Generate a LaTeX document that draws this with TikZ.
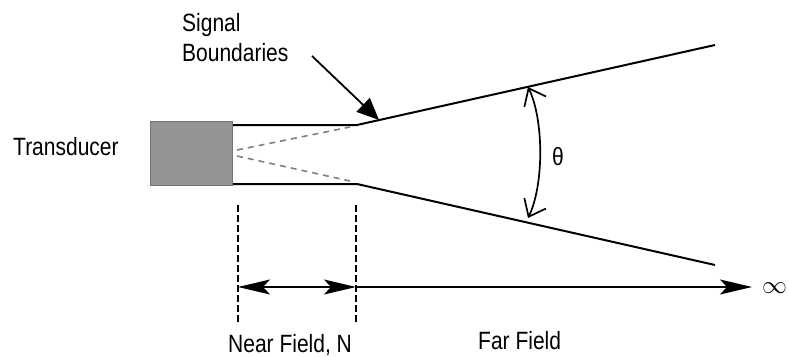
\documentclass[tikz,border=0pt]{standalone}
\usepackage{fontspec}
\usepackage{graphicx}
\setmainfont{Liberation Sans}
\usetikzlibrary{arrows.meta}
\newcommand{\nar}[1]{\scalebox{0.84}[1]{#1}}
\tikzset{dimtip/.tip={Stealth[length=32pt,width=15pt,inset=7pt]}}
\begin{document}
\begin{tikzpicture}[x=1pt,y=-1pt,
  lbl/.style={font=\fontsize{25}{28}\selectfont, inner sep=0pt},
  bound/.style={line width=2pt},
  nearline/.style={black!50, line width=1.6pt, dash pattern=on 6pt off 5pt},
  guide/.style={line width=1.4pt, dash pattern=on 7pt off 3pt},
  dimarrow/.style={line width=1.6pt}
]
\useasboundingbox (0,0) rectangle (789,356);

% transducer
\node[fill=black!42, draw=black!55, minimum width=82pt, minimum height=64pt, inner sep=0pt, anchor=north west] (tr) at (150,121) {};
\node[lbl, anchor=base west] (trlbl) at (13,155) {\nar{Transducer}};

% coordinates
\coordinate (t0) at (233,125);
\coordinate (t1) at (357,125);
\coordinate (t2) at (715,45);
\coordinate (b0) at (233,184);
\coordinate (b1) at (357,184);
\coordinate (b2) at (715,265);
\coordinate (d0) at (237,150);
\coordinate (d1) at (350,127);
\coordinate (e0) at (237,156);
\coordinate (e1) at (350,181);

\draw[bound] (t0) -- (t1) -- (t2);
\draw[bound] (b0) -- (b1) -- (b2);
\draw[nearline] (d0) -- (d1);
\draw[nearline] (e0) -- (e1);

% signal boundaries label
\node[lbl, anchor=base west] (sig) at (182,31) {\nar{Signal}};
\node[lbl, anchor=base west] (bnd) at (182,61) {\nar{Boundaries}};
\coordinate (as) at (312,56);
\coordinate (ae) at (379,120);
\draw[line width=1.8pt, -{Triangle[length=22pt,width=19pt]}] (as) -- (ae);

% theta
\coordinate (th1) at (528,87);
\coordinate (th2) at (528,218);
\draw[line width=1.7pt, {Straight Barb[length=15pt,width=24pt]}-{Straight Barb[length=15pt,width=24pt]}]
  (th1) .. controls (544,120) and (544,185) .. (th2);
\node[lbl, anchor=center] (theta) at (558,157) {\nar{θ}};

% guides
\coordinate (g1a) at (238,205);
\coordinate (g1b) at (238,323);
\coordinate (g2a) at (356,205);
\coordinate (g2b) at (356,323);
\draw[guide] (g1a) -- (g1b);
\draw[guide] (g2a) -- (g2b);

% dimension arrows
\coordinate (h0) at (238,287);
\coordinate (h1) at (356,287);
\coordinate (h2) at (752,287);
\draw[dimarrow, dimtip-dimtip] (h0) -- (h1);
\draw[dimarrow, -dimtip] (h1) -- (h2);
\node[inner sep=0pt, anchor=west, font=\fontsize{26}{26}\selectfont] (inf) at (762,288) {$\infty$};

\node[lbl, anchor=base west] (near) at (228,352) {\nar{Near Field, N}};
\node[lbl, anchor=base west] (far) at (478,349) {\nar{Far Field}};
\end{tikzpicture}
\end{document}
